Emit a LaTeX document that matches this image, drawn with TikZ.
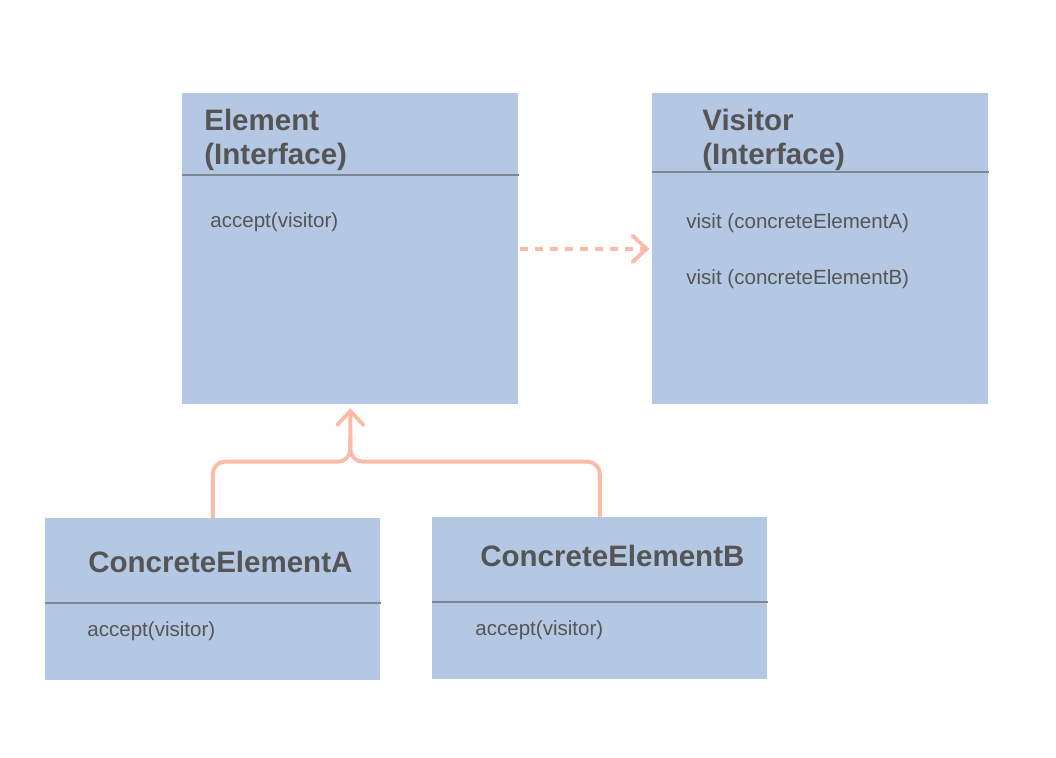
\documentclass[tikz,border=0pt]{standalone}
\usepackage{fontspec}
\setmainfont{Liberation Sans}
\usetikzlibrary{calc,arrows.meta}
\definecolor{boxblue}{HTML}{B4C8E4}
\definecolor{textgray}{HTML}{555555}
\definecolor{linegray}{HTML}{7F8795}
\definecolor{arrowpink}{HTML}{FCBBA9}

\begin{document}
\begin{tikzpicture}[
	x=0.02cm, y=-0.02cm,
	cls/.style = {rectangle, fill=boxblue, draw=none, anchor=north west,
		inner sep=0pt},
	title/.style = {anchor=base west, inner sep=0pt, text=textgray,
		font=\fontsize{16.8}{19.3}\selectfont\bfseries},
	op/.style = {anchor=base west, inner sep=0pt, text=textgray,
		font=\fontsize{11.7}{14}\selectfont},
	sep/.style = {draw=linegray, line width=0.8pt},
	inh/.style = {draw=arrowpink, line width=2.2pt, rounded corners=7pt},
	tip/.style = {-{Straight Barb[length=8pt, width=15pt, line cap=round]}},
	dep/.style = {draw=arrowpink, line width=2.2pt,
		dash pattern=on 4.5pt off 4pt},
	]
	\useasboundingbox (0,0) rectangle (1056,758);

	% class boxes
	\node[cls, minimum width=6.72cm, minimum height=6.22cm] (elem) at (182,93) {};
	\node[cls, minimum width=6.72cm, minimum height=6.22cm] (vis) at (652,93) {};
	\node[cls, minimum width=6.7cm, minimum height=3.24cm] (ceA) at (45,518) {};
	\node[cls, minimum width=6.7cm, minimum height=3.24cm] (ceB) at (432,517) {};

	\draw[sep] ($(elem.north west)+(0,82)$) -- ($(elem.north east)+(0,82)$);
	\draw[sep] ($(vis.north west)+(0,79)$) -- ($(vis.north east)+(0,79)$);
	\draw[sep] ($(ceA.north west)+(0,85)$) -- ($(ceA.north east)+(0,85)$);
	\draw[sep] ($(ceB.north west)+(0,85)$) -- ($(ceB.north east)+(0,85)$);

	% names and operations
	\node[title] (elemT1) at (204,130) {Element};
	\node[title] (elemT2) at (204,164) {(Interface)};
	\node[op] (elemOp) at (210,227) {accept(visitor)};

	\node[title] (visT1) at (702,130) {Visitor};
	\node[title] (visT2) at (702,164) {(Interface)};
	\node[op] (visOpA) at (686,228) {visit (concreteElementA)};
	\node[op] (visOpB) at (686,284) {visit (concreteElementB)};

	\node[title] (ceAT) at (88,572) {ConcreteElementA};
	\node[op] (ceAOp) at (87,636) {accept(visitor)};

	\node[title] (ceBT) at (480,566) {ConcreteElementB};
	\node[op] (ceBOp) at (475,635) {accept(visitor)};

	% connectors
	\coordinate (join) at ($(elem.south)+(0,57)$);

	\draw[dep, tip, shorten <=1pt, shorten >=1.5pt] (elem.east) -- (vis.west);

	\draw[inh, tip, shorten >=2pt] (ceA.north) |- (join) -- (elem.south);
	\draw[inh] (ceB.north) |- (join) -- ($(join)+(0,-25)$);
\end{tikzpicture}
\end{document}
